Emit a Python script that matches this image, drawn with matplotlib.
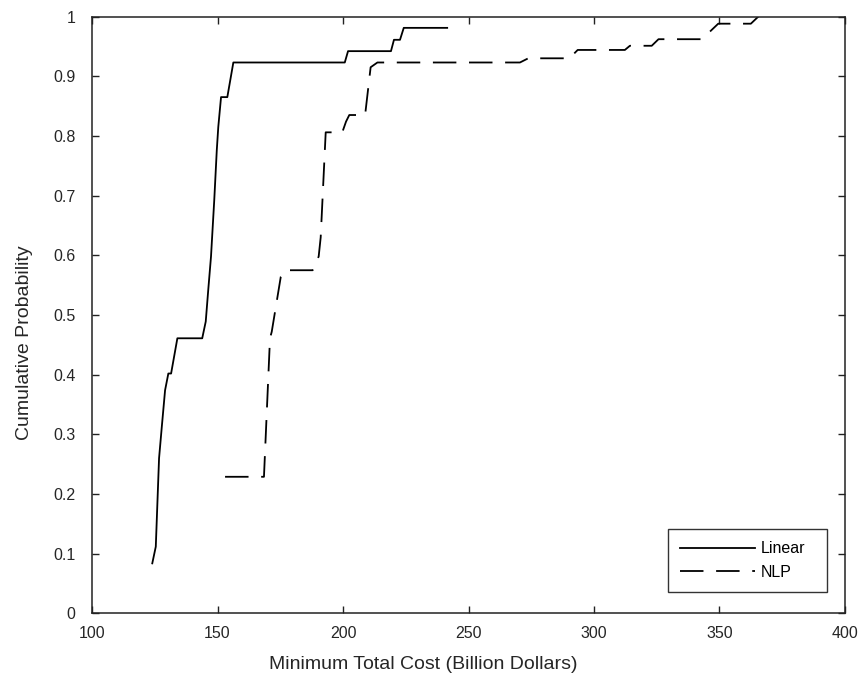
import numpy as np
import matplotlib
matplotlib.use("Agg")
import matplotlib.pyplot as plt

plt.rcParams['font.family'] = ['Liberation Sans', 'DejaVu Sans']

# cumulative curves of minimum total cost (billion dollars)
linear_cost = [124.0, 125.4, 126.7, 127.8, 129.1, 130.4, 131.5, 134.0, 143.9, 145.3,
               146.3, 147.4, 148.7, 149.7, 150.3, 151.4, 153.9, 156.3, 200.7, 202.0,
               219.1, 220.3, 222.7, 224.2, 241.5]
linear_prob = [0.084, 0.112, 0.260, 0.313, 0.374, 0.402, 0.402, 0.461, 0.461, 0.489,
               0.542, 0.598, 0.693, 0.776, 0.815, 0.865, 0.865, 0.923, 0.923, 0.942,
               0.942, 0.961, 0.961, 0.981, 0.981]

nlp_cost = [153.0, 168.5, 170.9, 171.6, 175.2, 176.9, 187.9, 190.3, 191.1, 193.1,
            199.7, 201.2, 202.5, 208.8, 211.0, 213.7, 270.5, 273.8, 290.2, 293.5,
            312.3, 314.3, 323.0, 325.7, 343.0, 349.5, 362.5, 365.5]
nlp_prob = [0.229, 0.229, 0.461, 0.472, 0.564, 0.575, 0.575, 0.598, 0.630, 0.806,
            0.806, 0.824, 0.835, 0.835, 0.915, 0.923, 0.923, 0.930, 0.930, 0.944,
            0.944, 0.951, 0.951, 0.962, 0.962, 0.988, 0.988, 1.000]

xticks = [100, 150, 200, 250, 300, 350, 400]
yticks = [0, 0.1, 0.2, 0.3, 0.4, 0.5, 0.6, 0.7, 0.8, 0.9, 1]
ytick_labels = ['0', '0.1', '0.2', '0.3', '0.4', '0.5', '0.6', '0.7', '0.8', '0.9', '1']

fig = plt.figure(figsize=(8.61, 6.77), dpi=100)
ax = fig.add_axes([0.1069, 0.0938, 0.8745, 0.8818])

ax.plot(linear_cost, linear_prob, color='black', lw=1.3, label='Linear')
ax.plot(nlp_cost, nlp_prob, color='black', lw=1.3, dashes=(13, 7), label='NLP')

ax.set_xlim(100, 400)
ax.set_ylim(0, 1)
ax.set_xticks(xticks)
ax.set_yticks(yticks)
ax.set_yticklabels(ytick_labels)
ax.tick_params(direction='in', length=5, width=1, top=True, right=True,
               labelsize=11.5, colors='#222222', labelcolor='#262626')
ax.tick_params(axis='y', pad=12)
ax.tick_params(axis='x', pad=9)
for s in ax.spines.values():
    s.set_linewidth(1.1)
    s.set_color('#222222')

ax.set_xlabel('Minimum Total Cost (Billion Dollars)', fontsize=14, color='#262626')
ax.set_ylabel('Cumulative Probability', fontsize=14, color='#262626')
ax.xaxis.set_label_coords(0.4396, -0.071)
ax.yaxis.set_label_coords(-0.079, 0.453)

leg = ax.legend(loc='lower left', bbox_to_anchor=(0.765, 0.036, 0.211, 0.102),
                mode='expand', borderaxespad=0, fontsize=11.5,
                handlelength=4.7, frameon=True, fancybox=False, borderpad=0.75,
                labelspacing=0.55, handletextpad=0.35)
leg.get_frame().set_edgecolor('black')
leg.get_frame().set_linewidth(1.0)

fig.savefig('out.png', dpi=100)
